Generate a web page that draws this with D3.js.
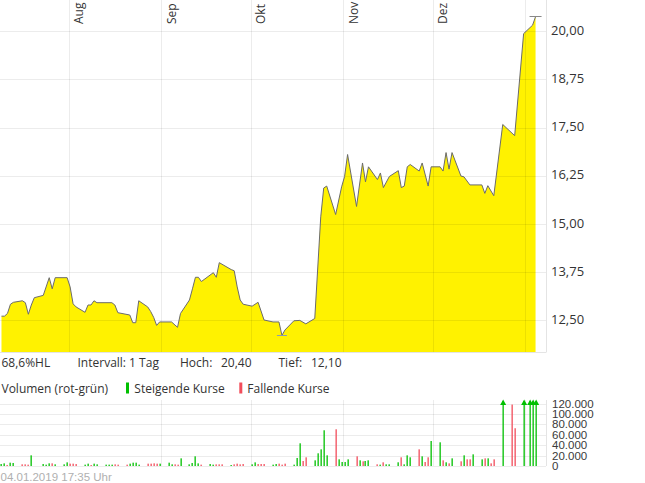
<!DOCTYPE html>
<html>
<head>
<meta charset="utf-8">
<script src="https://cdn.jsdelivr.net/npm/d3@7/dist/d3.min.js"></script>
<style>
body { margin: 0; background: #fff; }
svg text { font-family: "Open Sans", sans-serif; fill: #333; }
</style>
</head>
<body>
<svg id="chart" width="645" height="483"></svg>
<script>
// price line (trading days)
var priceDates = ["2018-07-09","2018-07-10","2018-07-11","2018-07-12","2018-07-13","2018-07-16","2018-07-17","2018-07-18","2018-07-19","2018-07-20",
  "2018-07-23","2018-07-25","2018-07-26","2018-07-27","2018-07-31","2018-08-01","2018-08-02","2018-08-03","2018-08-06","2018-08-07",
  "2018-08-08","2018-08-09","2018-08-10","2018-08-15","2018-08-16","2018-08-17","2018-08-21","2018-08-22","2018-08-23","2018-08-24",
  "2018-08-27","2018-08-28","2018-08-29","2018-08-30","2018-08-31","2018-09-04","2018-09-06","2018-09-07","2018-09-10","2018-09-11",
  "2018-09-12","2018-09-13","2018-09-14","2018-09-18","2018-09-19","2018-09-20","2018-09-24","2018-09-25","2018-09-26","2018-09-27",
  "2018-09-28","2018-10-01","2018-10-03","2018-10-05","2018-10-08","2018-10-10","2018-10-11","2018-10-12","2018-10-15","2018-10-17",
  "2018-10-19","2018-10-22","2018-10-24","2018-10-25","2018-10-26","2018-10-29","2018-10-31","2018-11-01","2018-11-02","2018-11-05",
  "2018-11-07","2018-11-08","2018-11-09","2018-11-12","2018-11-13","2018-11-14","2018-11-16","2018-11-19","2018-11-20","2018-11-21",
  "2018-11-22","2018-11-23","2018-11-26","2018-11-27","2018-11-29","2018-11-30","2018-12-03","2018-12-04","2018-12-05","2018-12-06",
  "2018-12-07","2018-12-10","2018-12-11","2018-12-13","2018-12-17","2018-12-18","2018-12-19","2018-12-21","2018-12-24","2018-12-28",
  "2018-12-31","2019-01-03","2019-01-04"];
var priceValues = [12.60,12.60,12.67,12.91,12.96,13.00,12.95,12.65,12.89,13.08,
  13.14,13.60,13.31,13.60,13.60,13.36,12.92,12.84,12.70,12.89,
  12.89,13.00,12.95,12.95,12.89,12.69,12.63,12.43,12.43,13.00,
  12.84,12.72,12.57,12.36,12.45,12.45,12.31,12.67,13.02,13.31,
  13.61,13.61,13.50,13.73,13.61,13.99,13.81,13.78,13.36,13.02,
  12.91,12.86,12.96,12.50,12.45,12.45,12.10,12.24,12.48,12.49,
  12.40,12.54,15.18,15.93,15.98,15.24,15.96,16.23,16.80,15.45,
  16.58,16.09,16.48,16.15,16.32,15.94,16.23,16.38,15.94,15.98,
  16.48,16.54,16.37,16.58,15.98,16.48,16.48,16.37,16.85,16.42,
  16.85,16.24,16.22,16.01,16.01,15.79,15.99,15.73,17.58,17.29,
  19.94,20.16,20.38];

// volume bars, 1 = steigend (green), 0 = fallend (red)
var volDates = ["2018-07-09","2018-07-10","2018-07-11","2018-07-12","2018-07-13","2018-07-16","2018-07-17","2018-07-18","2018-07-19","2018-07-23",
  "2018-07-24","2018-07-25","2018-07-26","2018-07-27","2018-07-30","2018-07-31","2018-08-01","2018-08-02","2018-08-03","2018-08-06",
  "2018-08-07","2018-08-08","2018-08-09","2018-08-10","2018-08-13","2018-08-14","2018-08-15","2018-08-16","2018-08-17","2018-08-20",
  "2018-08-21","2018-08-22","2018-08-23","2018-08-24","2018-08-27","2018-08-28","2018-08-29","2018-08-30","2018-08-31","2018-09-03",
  "2018-09-04","2018-09-05","2018-09-06","2018-09-07","2018-09-10","2018-09-11","2018-09-12","2018-09-13","2018-09-14","2018-09-17",
  "2018-09-18","2018-09-19","2018-09-20","2018-09-21","2018-09-24","2018-09-25","2018-09-26","2018-09-27","2018-09-28","2018-10-01",
  "2018-10-02","2018-10-03","2018-10-04","2018-10-05","2018-10-08","2018-10-09","2018-10-10","2018-10-11","2018-10-12","2018-10-15",
  "2018-10-16","2018-10-17","2018-10-18","2018-10-19","2018-10-22","2018-10-23","2018-10-24","2018-10-25","2018-10-26","2018-10-29",
  "2018-10-30","2018-10-31","2018-11-01","2018-11-02","2018-11-05","2018-11-06","2018-11-07","2018-11-08","2018-11-09","2018-11-12",
  "2018-11-13","2018-11-14","2018-11-15","2018-11-16","2018-11-19","2018-11-20","2018-11-21","2018-11-22","2018-11-23","2018-11-26",
  "2018-11-27","2018-11-28","2018-11-29","2018-11-30","2018-12-03","2018-12-04","2018-12-05","2018-12-06","2018-12-07","2018-12-10",
  "2018-12-11","2018-12-12","2018-12-13","2018-12-14","2018-12-17","2018-12-18","2018-12-19","2018-12-20","2018-12-21","2018-12-24",
  "2018-12-27","2018-12-28","2018-12-31","2019-01-02","2019-01-03","2019-01-04"];
var volValues = [3800,5100,2000,6400,5800,3200,3200,2600,20500,3800,
  2600,5100,5100,3200,3200,7000,4500,4500,3800,2600,
  4500,1900,4500,3200,2600,2600,2600,3200,2600,2600,
  4500,6400,6400,2600,4500,4500,5100,4500,4500,6400,
  3200,3200,2600,14700,3200,5800,18600,5100,2600,3800,
  2600,3200,3200,3200,1900,3200,4500,3200,3800,3200,
  7000,3800,3800,3800,2600,3800,4500,2600,4500,2600,
  15400,43600,9600,16700,10900,24400,32000,68600,20500,70500,
  12800,7700,7700,12800,18600,10900,9000,9600,10900,3200,
  2600,7100,3200,3200,7100,16700,3200,20500,16700,32000,
  18600,7700,16700,48000,45500,10900,7100,5100,14700,9000,
  20500,12800,12800,22400,12800,14700,14700,5100,12800,185000,
  118000,72500,160000,140000,150000,130000];
var volUp = [1,1,0,1,1,0,0,0,1,1,
  1,1,0,1,1,1,0,0,0,1,
  1,0,1,1,1,1,1,0,0,0,
  1,1,1,1,0,0,0,0,1,1,
  1,0,0,1,1,1,1,1,0,1,
  1,0,0,0,1,0,0,0,0,1,
  1,0,0,0,1,1,0,0,0,1,
  1,1,0,0,1,1,1,1,1,0,
  1,1,1,1,0,1,0,1,1,0,
  1,0,1,1,1,0,1,1,1,0,
  1,0,0,1,1,0,1,0,1,0,
  1,0,0,1,1,0,1,0,0,1,
  0,0,1,1,1,1];

var priceTicks = [12.5, 13.75, 15, 16.25, 17.5, 18.75, 20];
var volTicks = [0, 20000, 40000, 60000, 80000, 100000, 120000];
var monthTicks = ["2018-08-01","2018-09-01","2018-10-01","2018-11-01","2018-12-01","2019-01-01"];
var monthLabels = ["Aug","Sep","Okt","Nov","Dez",""];
var high = 20.40, low = 12.10;
var highDate = "2019-01-04", lowDate = "2018-10-11";

var de = d3.formatLocale({decimal: ",", thousands: ".", grouping: [3], currency: ["", " €"]});
var fmtPrice = de.format(".2f");
var fmtVol = de.format(",d");

var parseDay = d3.timeParse("%Y-%m-%d");
function atNoon(s) { return d3.timeHour.offset(parseDay(s), 12); }

var svg = d3.select("#chart");
var plotW = 546;
var mainTop = 0, mainBottom = 352;
var volTop = 400, volBottom = 466;

var x = d3.scaleTime()
  .domain([parseDay("2018-07-09"), parseDay("2019-01-08")])
  .range([0, plotW]);
var y = d3.scaleLinear().domain([11.669, 20.814]).range([mainBottom, mainTop]);
var yv = d3.scaleLinear().domain([0, 120000]).range([volBottom, 403.5]);

var prices = priceDates.map(function(d, i) { return {date: atNoon(d), value: priceValues[i]}; });
var vols = volDates.map(function(d, i) { return {date: atNoon(d), value: volValues[i], up: volUp[i]}; });

function px(v) { return Math.round(v) + 0.5; }

// ---- main chart ----
var area = d3.area()
  .x(function(d) { return x(d.date); })
  .y0(mainBottom)
  .y1(function(d) { return y(d.value); });
var line = d3.line()
  .x(function(d) { return x(d.date); })
  .y(function(d) { return y(d.value); });

svg.append("path").datum(prices)
  .attr("d", area)
  .attr("fill", "#fff200");

var grid = svg.append("g").attr("stroke", "rgba(0,0,0,0.075)").attr("stroke-width", 1);
priceTicks.forEach(function(t) {
  grid.append("line").attr("x1", 0).attr("x2", plotW)
    .attr("y1", px(y(t))).attr("y2", px(y(t)));
});
monthTicks.forEach(function(m) {
  var gx = px(x(parseDay(m)));
  grid.append("line").attr("x1", gx).attr("x2", gx).attr("y1", mainTop).attr("y2", mainBottom);
  grid.append("line").attr("x1", gx).attr("x2", gx).attr("y1", volTop).attr("y2", volBottom);
});
volTicks.forEach(function(t) {
  grid.append("line").attr("x1", 0).attr("x2", plotW)
    .attr("y1", px(yv(t))).attr("y2", px(yv(t)));
});

// frame
var frame = svg.append("g").attr("stroke", "#e4e4e4");
frame.append("line").attr("x1", px(plotW)).attr("x2", px(plotW)).attr("y1", mainTop).attr("y2", mainBottom);
frame.append("line").attr("x1", 0).attr("x2", px(plotW)).attr("y1", px(mainBottom)).attr("y2", px(mainBottom));
frame.append("line").attr("x1", px(plotW)).attr("x2", px(plotW)).attr("y1", volTop).attr("y2", volBottom);

svg.append("path").datum(prices)
  .attr("d", line)
  .attr("fill", "none")
  .attr("stroke", "#6b6b6b")
  .attr("stroke-width", 1);

// high / low markers
svg.append("line")
  .attr("x1", x(atNoon(highDate)) - 6).attr("x2", x(atNoon(highDate)) + 6)
  .attr("y1", px(y(high))).attr("y2", px(y(high)))
  .attr("stroke", "#888");
svg.append("line")
  .attr("x1", x(atNoon(lowDate)) - 5).attr("x2", x(atNoon(lowDate)) + 5)
  .attr("y1", px(y(low))).attr("y2", px(y(low)))
  .attr("stroke", "#8a9bb5");

// price labels
svg.append("g").selectAll("text").data(priceTicks).enter().append("text")
  .attr("x", 551)
  .attr("y", function(d) { return y(d) + 3.8; })
  .attr("font-size", "13px")
  .text(function(d) { return fmtPrice(d); });

// month labels
svg.append("g").selectAll("text").data(monthTicks).enter().append("text")
  .attr("transform", function(d) { return "translate(" + (x(parseDay(d)) + 14.5) + ",24) rotate(-90)"; })
  .attr("font-size", "12px")
  .text(function(d, i) { return monthLabels[i]; });

// info line
var info = svg.append("g").attr("font-size", "12px");
info.append("text").attr("x", 1.5).attr("y", 367).text("68,6%HL");
info.append("text").attr("x", 77.5).attr("y", 367).text("Intervall: 1 Tag");
info.append("text").attr("x", 180).attr("y", 367).text("Hoch:");
info.append("text").attr("x", 221).attr("y", 367).text(fmtPrice(high));
info.append("text").attr("x", 278.5).attr("y", 367).text("Tief:");
info.append("text").attr("x", 311).attr("y", 367).text(fmtPrice(low));

// volume legend
var leg = svg.append("g").attr("font-size", "12px");
leg.append("text").attr("x", 1.5).attr("y", 393).text("Volumen (rot-grün)");
leg.append("rect").attr("x", 126).attr("y", 382.5).attr("width", 3).attr("height", 11).attr("fill", "#00c000");
leg.append("text").attr("x", 134.3).attr("y", 393).text("Steigende Kurse");
leg.append("rect").attr("x", 239.3).attr("y", 382.5).attr("width", 3).attr("height", 11).attr("fill", "#f24d5b");
leg.append("text").attr("x", 247.3).attr("y", 393).text("Fallende Kurse");

// ---- volume bars ----
var volMax = yv.domain()[1];
var bars = svg.append("g");
bars.selectAll("rect").data(vols).enter().append("rect")
  .attr("x", function(d) { return Math.round(x(d.date)) - 0.5; })
  .attr("width", 1.3)
  .attr("y", function(d) { return d.value > volMax ? 401 : yv(d.value); })
  .attr("height", function(d) { return volBottom - (d.value > volMax ? 401 : yv(d.value)); })
  .attr("fill", function(d) { return d.up ? "#00c000" : "#f24d5b"; });
bars.selectAll("path").data(vols.filter(function(d) { return d.value > volMax; })).enter().append("path")
  .attr("d", function(d) {
    var cx = Math.round(x(d.date)) + 0.15;
    return "M" + (cx - 3) + ",405L" + (cx + 3) + ",405L" + cx + ",399.5Z";
  })
  .attr("fill", "#00c000");

// volume labels
svg.append("g").selectAll("text").data(volTicks).enter().append("text")
  .attr("x", 552)
  .attr("y", function(d) { return yv(d) + 4; })
  .attr("font-size", "11.5px")
  .style("font-family", "'Liberation Sans', Arial, sans-serif")
  .style("fill", "#3a3a3a")
  .text(function(d) { return fmtVol(d); });

// footer
svg.append("text")
  .attr("x", 0.5).attr("y", 480.5)
  .attr("font-size", "11.5px")
  .style("font-family", "'Liberation Sans', Arial, sans-serif")
  .style("fill", "#b0b0b0")
  .text("04.01.2019 17:35 Uhr");
</script>
</body>
</html>
